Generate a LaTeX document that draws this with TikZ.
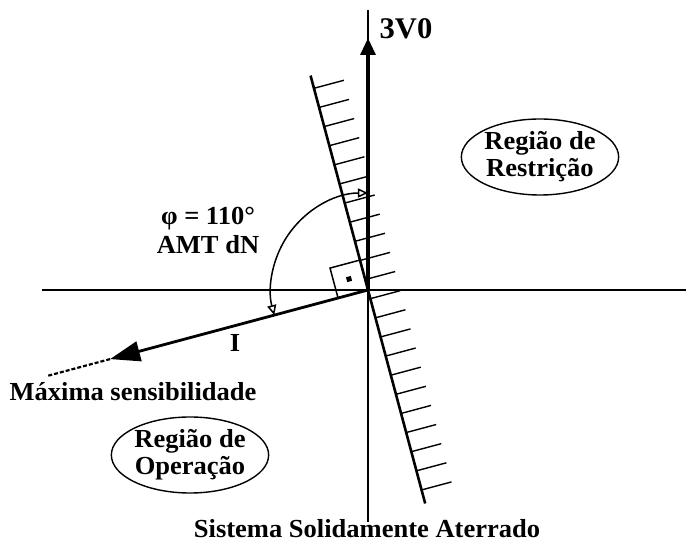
\documentclass[tikz,border=0pt]{standalone}
\usepackage{fontspec}
\setmainfont{Liberation Serif}
\usetikzlibrary{arrows.meta, shapes.geometric, calc}

\begin{document}
\begin{tikzpicture}[x=1pt,y=1pt,
    rotulo/.style={font=\fontsize{26}{27}\selectfont\bfseries, xscale=1.02, align=center, inner sep=0pt},
    regiao/.style={draw, ellipse, line width=1.4pt, minimum width=152pt, minimum height=76pt}]
    \def\ang{105}
    \def\raio{97}

    \useasboundingbox (-368,-255) rectangle (318,290);

    \coordinate (O) at (0,0);

    % eixos
    \draw[line width=2.4pt] (-326,0) -- (318,0);
    \draw[line width=1.4pt] (0,280) -- (0,-232);
    \draw[line width=3.2pt, -{Triangle[length=17pt,width=15pt]}] (O) -- (0,252) coordinate (v0);

    % corrente I e prolongamento tracejado
    \draw[line width=2.8pt, -{Triangle[length=30pt,width=20pt]}] (O) -- (195:267) coordinate (ponta);
    \draw[line width=2.2pt, dash pattern=on 4pt off 2pt] (ponta) -- (195:331) coordinate (fim);

    % reta limite com hachuras
    \draw[line width=2.6pt] (\ang:222) coordinate (topo) -- (\ang+180:221) coordinate (base);
    \foreach \k in {0,...,21}
        \draw[line width=1.4pt] (\ang:{-207+19.8*\k}) -- ++(15:31);

    % angulo reto
    \draw[line width=1.5pt] (195:31) -- ++(\ang:31) -- (\ang:31);
    \node[fill, minimum size=5pt, inner sep=0pt, rotate=15] (ponto) at ($(195:15.5)+(\ang:15.5)$) {};

    % arco do angulo
    \draw[line width=1.5pt, {Triangle[open,length=10pt,width=9pt]}-{Triangle[open,length=10pt,width=9pt]}]
        (90:\raio) arc[start angle=90, end angle=195, radius=\raio];

    \node[rotulo, font=\fontsize{30}{30}\selectfont\bfseries] (tensao) at (38,261) {3V0};
    \node[rotulo] (phi) at (-160,60) {φ = 110°\\[2pt]AMT dN};
    \node[rotulo] (corrente) at (-133,-53) {I};
    \node[rotulo] (maxsens) at (-235,-102) {Máxima sensibilidade};
    \node[rotulo] (sistema) at (-1,-239) {Sistema Solidamente Aterrado};
    \node[rotulo, regiao] (restricao) at (172,133) {Região de\\Restrição};
    \node[rotulo, regiao] (operacao) at (-178,-165) {Região de\\Operação};
\end{tikzpicture}
\end{document}
